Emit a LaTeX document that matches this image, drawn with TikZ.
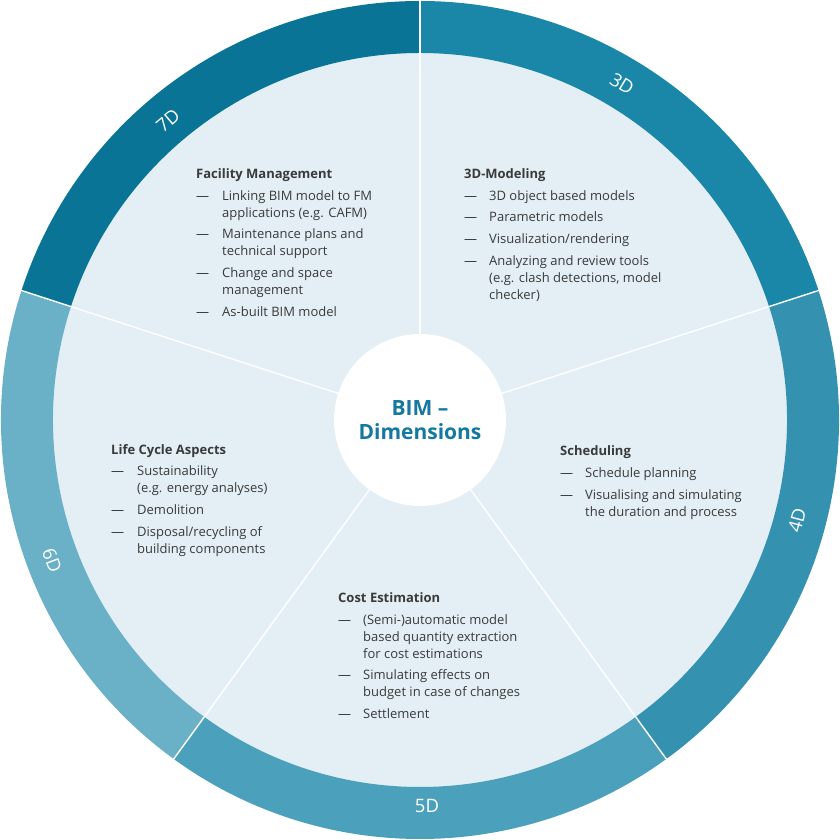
\documentclass[tikz,border=0pt]{standalone}
\usepackage{fontspec}
\setmainfont{Open Sans}
\definecolor{cSeven}{HTML}{0A7496}
\definecolor{cThree}{HTML}{1A87A8}
\definecolor{cFour}{HTML}{3591B0}
\definecolor{cFive}{HTML}{4BA0BC}
\definecolor{cSix}{HTML}{6AB0C6}
\definecolor{cDisc}{HTML}{E3EFF5}
\definecolor{cText}{HTML}{3A3A3A}
\definecolor{cTitle}{HTML}{1478A0}
\tikzset{
  ttl/.style={anchor=mid west, inner sep=0pt, text=cText, font=\fontsize{13}{15}\selectfont\bfseries},
  itm/.style={anchor=mid west, inner sep=0pt, text=cText, font=\fontsize{13}{15}\selectfont},
  ringlbl/.style={inner sep=0pt, text=white, font=\fontsize{18.5}{21}\selectfont},
  spoke/.style={white, line width=1.4pt},
  ctr/.style={inner sep=0pt, text=cTitle, font=\fontsize{21}{24}\selectfont\bfseries}
}
\begin{document}
\begin{tikzpicture}[x=1pt,y=1pt]
\useasboundingbox (0,0) rectangle (840,840);
\fill[white] (0,0) rectangle (840,840);
\coordinate (O) at (420,420);
% disc
\fill[cDisc] (O) circle[radius=368pt];
% ring segments
\fill[cThree] ([shift={(O)}]18:419pt) arc[start angle=18,end angle=90,radius=419pt] -- ([shift={(O)}]90:367pt) arc[start angle=90,end angle=18,radius=367pt] -- cycle;
\fill[cSeven] ([shift={(O)}]90:419pt) arc[start angle=90,end angle=162,radius=419pt] -- ([shift={(O)}]162:367pt) arc[start angle=162,end angle=90,radius=367pt] -- cycle;
\fill[cSix] ([shift={(O)}]162:419pt) arc[start angle=162,end angle=234,radius=419pt] -- ([shift={(O)}]234:367pt) arc[start angle=234,end angle=162,radius=367pt] -- cycle;
\fill[cFive] ([shift={(O)}]234:419pt) arc[start angle=234,end angle=306,radius=419pt] -- ([shift={(O)}]306:367pt) arc[start angle=306,end angle=234,radius=367pt] -- cycle;
\fill[cFour] ([shift={(O)}]306:419pt) arc[start angle=306,end angle=378,radius=419pt] -- ([shift={(O)}]18:367pt) arc[start angle=378,end angle=306,radius=367pt] -- cycle;
% spokes
\foreach \a in {18,90,162,234,306} {
  \coordinate (e\a) at ([shift={(O)}]\a:421pt);
  \draw[spoke] (O) -- (e\a);
}
% center
\node[circle, fill=white, minimum size=172pt, inner sep=0pt] (hub) at (O) {};
\node[ctr] (hubA) at (420,432) {BIM –};
\node[ctr] (hubB) at (420,408) {Dimensions};
% ring labels
\node[ringlbl, rotate=-31] (l3) at (622,756) {3D};
\node[ringlbl, rotate=40] (l7) at (168,719) {7D};
\node[ringlbl, rotate=75] (l4) at (797,320) {4D};
\node[ringlbl] (l5) at (427,34) {5D};
\node[ringlbl, rotate=-69] (l6) at (52,280) {6D};
\begin{scope}[yshift=-3pt]
% Facility Management
\node[ttl] (fmT) at (196,667) {Facility Management};
\node[itm] (fmD1) at (196,645) {—}; \node[itm] (fm1) at (222,645) {Linking BIM model to FM};
\node[itm] (fm1b) at (222,628) {applications (e.g. CAFM)};
\node[itm] (fmD2) at (196,607) {—}; \node[itm] (fm2) at (222,607) {Maintenance plans and};
\node[itm] (fm2b) at (222,590) {technical support};
\node[itm] (fmD3) at (196,568) {—}; \node[itm] (fm3) at (222,568) {Change and space};
\node[itm] (fm3b) at (222,551) {management};
\node[itm] (fmD4) at (196,529) {—}; \node[itm] (fm4) at (222,529) {As-built BIM model};
% 3D-Modeling
\node[ttl] (mdT) at (464,667) {3D-Modeling};
\node[itm] (mdD1) at (464,645) {—}; \node[itm] (md1) at (489,645) {3D object based models};
\node[itm] (mdD2) at (464,624) {—}; \node[itm] (md2) at (489,624) {Parametric models};
\node[itm] (mdD3) at (464,602) {—}; \node[itm] (md3) at (489,602) {Visualization/rendering};
\node[itm] (mdD4) at (464,580) {—}; \node[itm] (md4) at (489,580) {Analyzing and review tools};
\node[itm] (md4b) at (489,563) {(e.g. clash detections, model};
\node[itm] (md4c) at (489,546) {checker)};
% Scheduling
\node[ttl] (scT) at (560,390) {Scheduling};
\node[itm] (scD1) at (560,368) {—}; \node[itm] (sc1) at (585,368) {Schedule planning};
\node[itm] (scD2) at (560,346) {—}; \node[itm] (sc2) at (585,346) {Visualising and simulating};
\node[itm] (sc2b) at (585,329) {the duration and process};
% Life Cycle Aspects
\node[ttl] (lcT) at (111,391) {Life Cycle Aspects};
\node[itm] (lcD1) at (111,370) {—}; \node[itm] (lc1) at (137,370) {Sustainability};
\node[itm] (lc1b) at (137,353) {(e.g. energy analyses)};
\node[itm] (lcD2) at (111,331) {—}; \node[itm] (lc2) at (137,331) {Demolition};
\node[itm] (lcD3) at (111,309) {—}; \node[itm] (lc3) at (137,309) {Disposal/recycling of};
\node[itm] (lc3b) at (137,292) {building components};
% Cost Estimation
\node[ttl] (ceT) at (338,243) {Cost Estimation};
\node[itm] (ceD1) at (338,221) {—}; \node[itm] (ce1) at (363,221) {(Semi-)automatic model};
\node[itm] (ce1b) at (363,204) {based quantity extraction};
\node[itm] (ce1c) at (363,187) {for cost estimations};
\node[itm] (ceD2) at (338,166) {—}; \node[itm] (ce2) at (363,166) {Simulating effects on};
\node[itm] (ce2b) at (363,149) {budget in case of changes};
\node[itm] (ceD3) at (338,127) {—}; \node[itm] (ce3) at (363,127) {Settlement};
\end{scope}
\end{tikzpicture}
\end{document}
